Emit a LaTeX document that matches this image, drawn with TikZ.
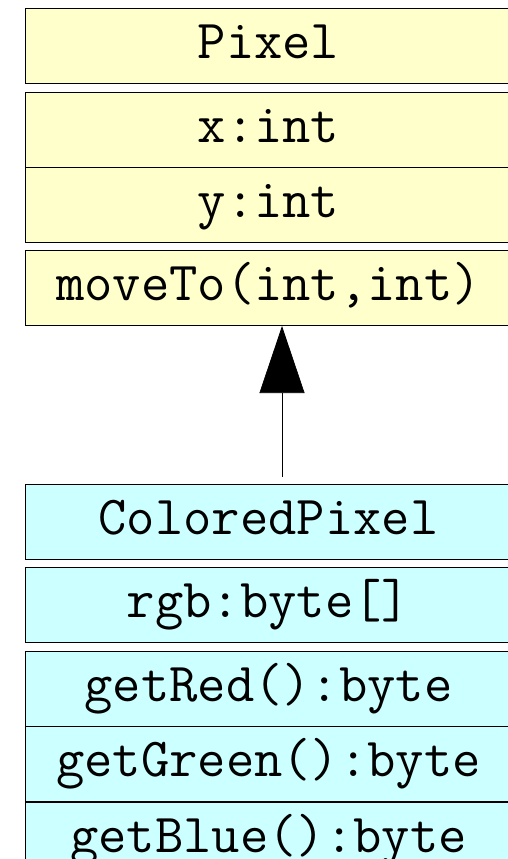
\documentclass[tikz,border=0pt]{standalone}
\usetikzlibrary{arrows.meta}
\definecolor{umlyellow}{RGB}{255,255,204}
\definecolor{umlcyan}{RGB}{204,255,255}
\begin{document}
\begin{tikzpicture}[x=1pt,y=1pt,
  umlbox/.style={draw=black, line width=1pt, rectangle, anchor=north west,
    minimum width=486pt, minimum height=75pt, inner sep=0pt,
    text height=30pt, text depth=5pt,
    font=\ttfamily\fontsize{55}{60}\selectfont},
  ybox/.style={umlbox, fill=umlyellow},
  cbox/.style={umlbox, fill=umlcyan},
  inherit/.style={line width=0.7pt, -{Triangle[length=67pt,width=45pt]}}]
\useasboundingbox (0,0) rectangle (508,-859);
\clip (0,0) rectangle (508,-859);
\node[ybox] (pixel) at (25,-8) {Pixel};
\node[ybox] (px) at (25,-92) {x:int};
\node[ybox] (py) at (25,-167) {y:int};
\node[ybox] (move) at (25,-250) {moveTo(int,int)};
\node[cbox] (cp) at (25,-484) {ColoredPixel};
\node[cbox] (rgb) at (25,-567) {rgb:byte[]};
\node[cbox] (red) at (25,-651) {getRed():byte};
\node[cbox] (green) at (25,-726) {getGreen():byte};
\node[cbox] (blue) at (25,-802) {getBlue():byte};
\coordinate (tail) at (282,-477);
\draw[inherit] (tail) -- (tail |- move.south);
\end{tikzpicture}
\end{document}
